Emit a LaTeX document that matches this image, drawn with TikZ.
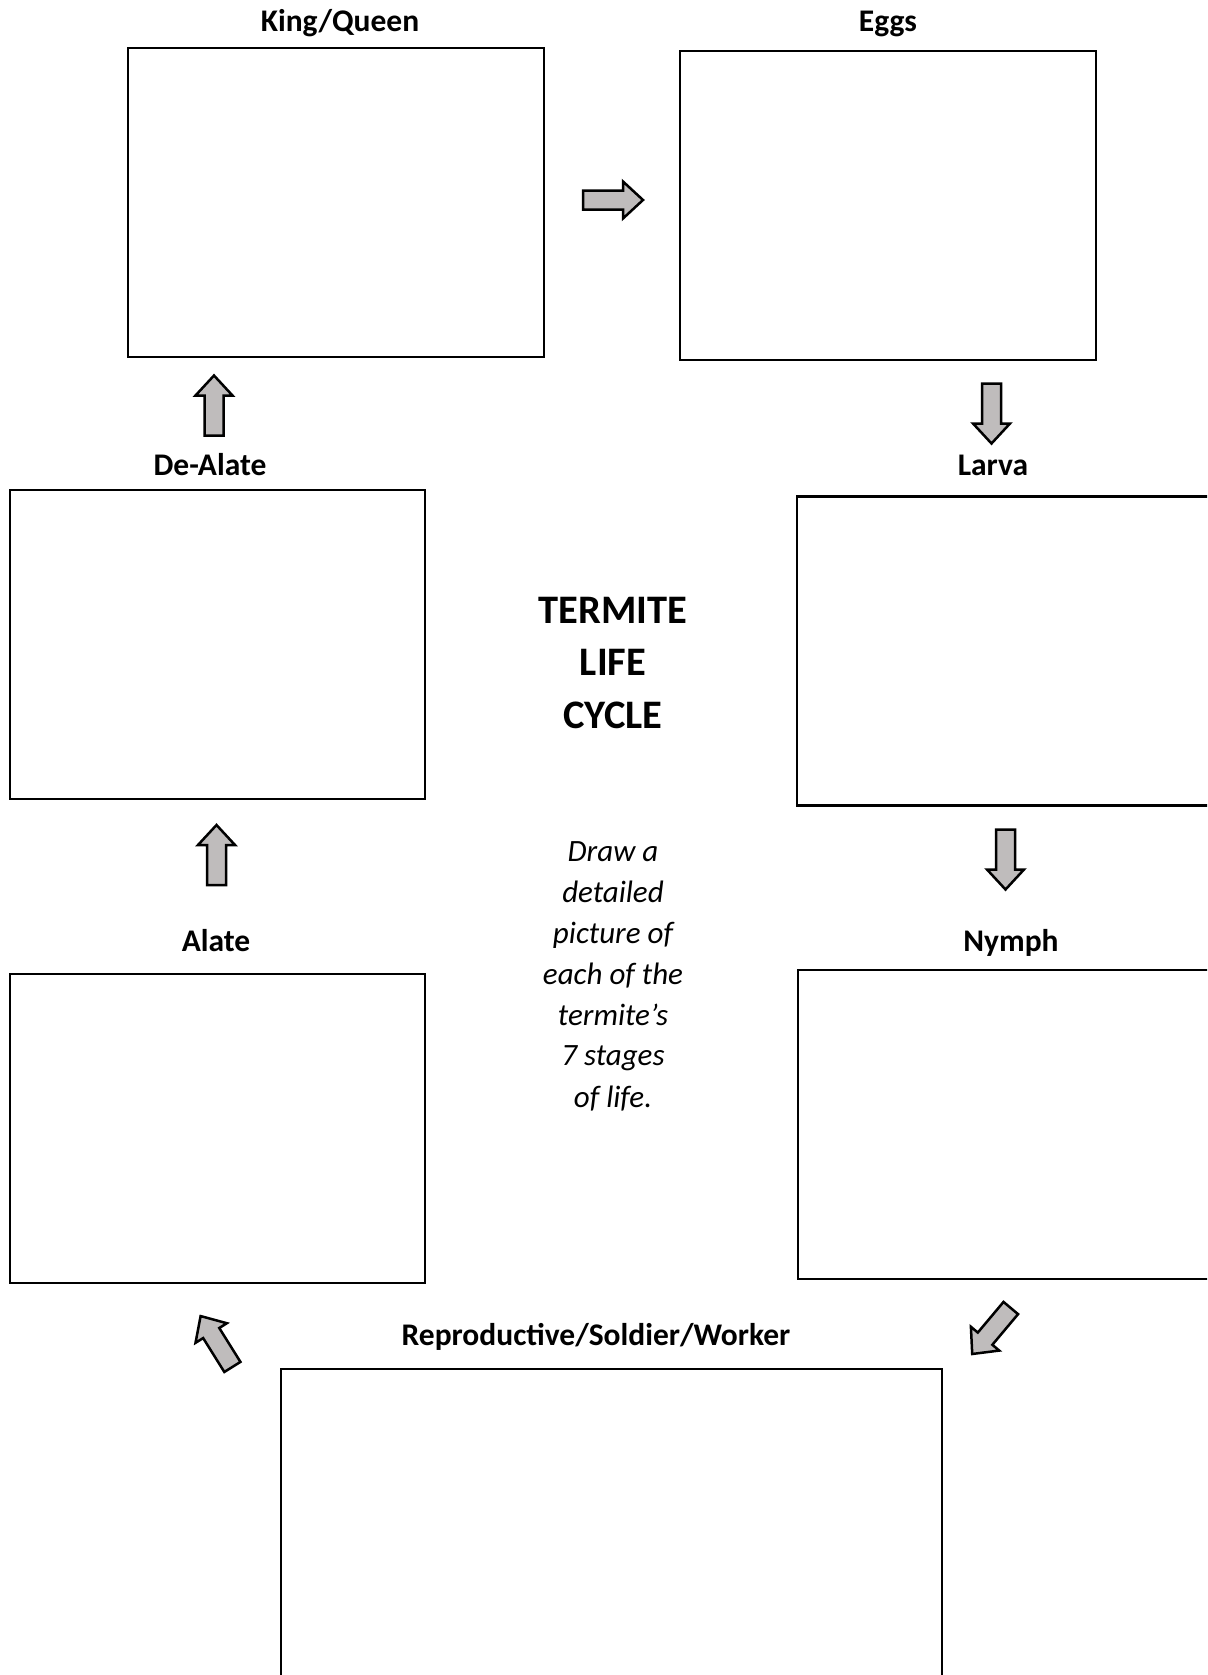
\documentclass[tikz,border=0pt]{standalone}
\usepackage{fontspec}
\setmainfont{Carlito}
\definecolor{arrowgray}{RGB}{191,188,188}
\tikzset{blockarrow/.pic={\draw[arrowbody] (-30,-9.5) -- (10,-9.5) -- (10,-18.5) -- (30,0) -- (10,18.5) -- (10,9.5) -- (-30,9.5) -- cycle;}}

\begin{document}
\begin{tikzpicture}[x=1pt,y=-1pt,
  stagebox/.style={draw, line width=2.5pt, rectangle, inner sep=0pt, outer sep=0pt, minimum width=416pt, minimum height=309pt},
  stagelabel/.style={anchor=base, inner sep=0pt, font=\fontsize{31.5}{36}\selectfont\bfseries},
  titleline/.style={anchor=base, inner sep=0pt, font=\fontsize{40.5}{46}\selectfont\bfseries},
  noteline/.style={anchor=base, inner sep=0pt, font=\fontsize{31}{36}\selectfont\itshape},
  arrowbody/.style={draw=black, line width=2.5pt, line join=miter, fill=arrowgray}]
\path[use as bounding box] (0,0) rectangle (1207,1675);
\clip (0,0) rectangle (1207,1675);
\node[stagebox] (kq) at (336,202.5) {};
\node[stagebox] (eggs) at (888,205.5) {};
\node[stagebox, minimum width=415pt] (dealate) at (217.5,644.5) {};
\node[stagebox] (larva) at (1005,651) {};
\node[stagebox, minimum width=415pt] (alate) at (217.5,1128.5) {};
\node[stagebox] (nymph) at (1006,1124.5) {};
\node[stagebox, minimum width=661pt, minimum height=400pt] (rsw) at (611.5,1569) {};
\node[stagelabel] (kqlabel) at (340,32) {King/Queen};
\node[stagelabel] (eggslabel) at (888,32) {Eggs};
\node[stagelabel] (dealatelabel) at (210,475.5) {De-Alate};
\node[stagelabel] (larvalabel) at (993,475.5) {Larva};
\node[stagelabel] (alatelabel) at (216,951.5) {Alate};
\node[stagelabel] (nymphlabel) at (1011,951.5) {Nymph};
\node[stagelabel] (rswlabel) at (596,1345) {Reproductive/Soldier/Worker};
\node[titleline] (title1) at (613,623) {TERMITE};
\node[titleline] (title2) at (613,675) {LIFE};
\node[titleline] (title3) at (613,728) {CYCLE};
\node[noteline] (note1) at (613,861) {Draw a};
\node[noteline] (note2) at (613,902) {detailed};
\node[noteline] (note3) at (613,943) {picture of};
\node[noteline] (note4) at (613,984) {each of the};
\node[noteline] (note5) at (613,1025) {termite’s};
\node[noteline] (note6) at (613,1065) {7 stages};
\node[noteline] (note7) at (613,1107) {of life.};
\pic (kqtoeggs) at (613,200) {blockarrow};
\pic[rotate=-90] (eggstolarva) at (991.5,413.5) {blockarrow};
\pic[rotate=-90] (larvatonymph) at (1005.5,859.5) {blockarrow};
\pic[rotate=230] (nymphtorsw) at (991.5,1331) {blockarrow};
\pic[rotate=122] (rswtoalate) at (216.5,1341.5) {blockarrow};
\pic[rotate=90] (alatetodealate) at (216.5,855) {blockarrow};
\pic[rotate=90] (dealatetokq) at (214,405.5) {blockarrow};
\end{tikzpicture}
\end{document}
